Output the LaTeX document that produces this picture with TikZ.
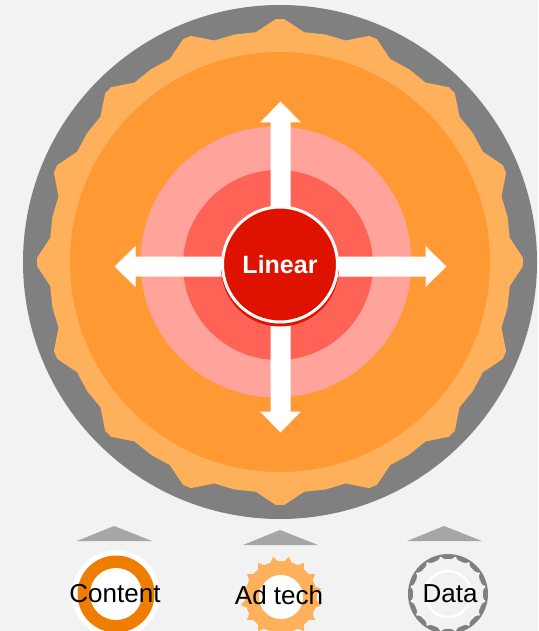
\documentclass[tikz,border=0pt]{standalone}
\usepackage{fontspec}
\setmainfont{Liberation Sans}
\usetikzlibrary{calc}
\definecolor{bg}{HTML}{F2F2F2}
\definecolor{biggray}{HTML}{808080}
\definecolor{gearc}{HTML}{FFB05A}
\definecolor{orangec}{HTML}{FF9933}
\definecolor{pinkc}{HTML}{FFA39B}
\definecolor{salmonc}{HTML}{FF6355}
\definecolor{redc}{HTML}{DF1200}
\definecolor{ringc}{HTML}{EF7D00}
\definecolor{trig}{HTML}{A6A6A6}
\tikzset{
  lbl/.style={font=\fontsize{26}{28}\selectfont, text=black, inner sep=0pt},
  trimark/.style={fill=trig},
}
\begin{document}
\begin{tikzpicture}[x=1pt,y=-1pt]
\fill[bg] (0,0) rectangle (538,631);
\useasboundingbox (0,0) rectangle (538,631);
% big disc
\coordinate (O) at (280,262);
\fill[biggray] (O) circle (257);
\begin{scope}[shift={(O)}]
  \fill[gearc] (-6:231) \foreach \i in {0,...,15}{
     -- ({\i*22.5-6}:231) -- ({\i*22.5-1}:243) -- ({\i*22.5+1}:243) -- ({\i*22.5+6}:231) -- ({\i*22.5+11.25}:232) } -- cycle;
\end{scope}
\fill[orangec] (O) circle (210);
\fill[pinkc] (276,262) circle (135.5);
\fill[salmonc] (278,265) circle (95);
% arrows
\begin{scope}[shift={(280.5,266.5)}]
  \fill[white] (-10,-10) -- (-10,-144) -- (-20.5,-144) -- (0,-165) -- (20.5,-144) -- (10,-144) -- (10,-10)
   -- (145,-10) -- (145,-20.5) -- (166,0) -- (145,20.5) -- (145,10) -- (10,10)
   -- (10,145) -- (20.5,145) -- (0,166) -- (-20.5,145) -- (-10,145) -- (-10,10)
   -- (-145,10) -- (-145,20.5) -- (-166,0) -- (-145,-20.5) -- (-145,-10) -- cycle;
\end{scope}
% centre
\fill[redc] (280,267.5) circle (59);
\node[circle, fill=redc, draw=white, line width=3pt, minimum size=115pt, inner sep=0pt,
      text=white, font=\bfseries\fontsize{25}{27}\selectfont] (lin) at (280,264.5) {Linear};
% triangles
\fill[trimark] (114,526) -- (152,541) -- (77,541) -- cycle;
\fill[trimark] (280,530) -- (318,545) -- (243,545) -- cycle;
\fill[trimark] (444,526) -- (482,541) -- (407,541) -- cycle;
% Content icon
\coordinate (c1) at (116,594);
\fill[white] (c1) circle (44);
\fill[ringc] (c1) circle (38.5);
\fill[white] (c1) circle (26);
\node[lbl] (content) at (115,594) {Content};
% Ad tech icon
\coordinate (c2) at (281,597);
\begin{scope}[shift={(c2)}]
  \fill[gearc] (-5:36) \foreach \i in {0,...,15}{
     -- ({\i*22.5+5.5}:36) -- ({\i*22.5+11.25}:41) -- ({\i*22.5+17}:36) } -- cycle;
  \fill[white] (0,0) circle (22);
\end{scope}
\node[lbl] (adtech) at (279,595) {Ad tech};
% Data icon
\coordinate (c3) at (448,594);
\begin{scope}[shift={(c3)}]
  \fill[biggray] (0,0) circle (40);
  \fill[bg] (0:35) \foreach \i in {0,...,15}{
     -- ({\i*22.5+5}:35) -- ({\i*22.5+11.25}:37.5) -- ({\i*22.5+17.5}:35) } -- cycle;
  \foreach \i in {0,...,15}{ \fill[white] ({\i*22.5+11.25}:37) circle (1.2); }
  \draw[white, line width=2.5pt] (0,0) circle (23);
\end{scope}
\node[lbl] (data) at (450,594) {Data};
\end{tikzpicture}
\end{document}
